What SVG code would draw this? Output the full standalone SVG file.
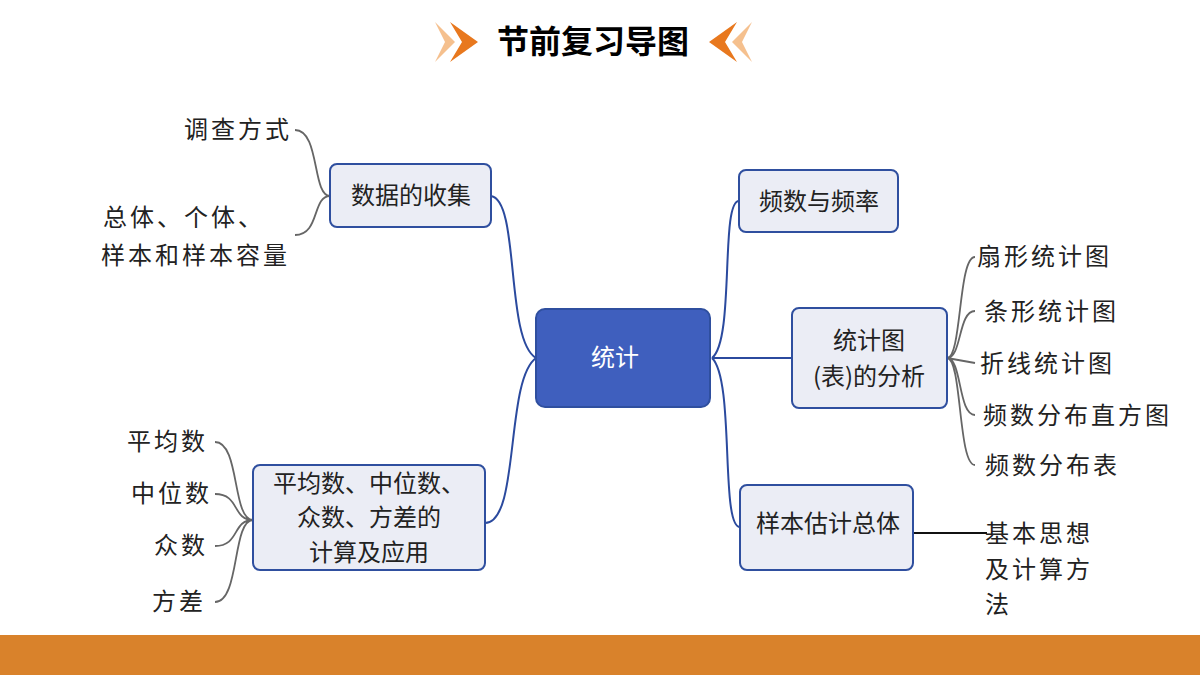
<svg xmlns="http://www.w3.org/2000/svg" width="1200" height="675" viewBox="0 0 1200 675">
<style>
text{font-family:"Noto Sans CJK SC","Noto Sans",sans-serif;font-size:24px;fill:#222;}
.t{text-anchor:middle;}
.n{fill:#EBEDF5;stroke:#2F4F9F;stroke-width:2;}
.c{fill:none;stroke:#2B4A9E;stroke-width:2;}
.g{fill:none;stroke:#666;stroke-width:1.8;}
</style>
<rect width="1200" height="675" fill="#fff"/>
<g id="title">
<polygon points="435,22 455,42 435,62 445,42" fill="#F5C08E"/>
<polygon points="450,22 478,42 450,62 462,42" fill="#E8781E"/>
<text x="593" y="53" class="t" style="font-size:32px;font-weight:bold;fill:#000">节前复习导图</text>
<polygon points="752,22 732,42 752,62 742,42" fill="#F5C08E"/>
<polygon points="737,22 709,42 737,62 725,42" fill="#E8781E"/>
</g>
<rect x="0" y="635" width="1200" height="40" fill="#D9822B"/>
<g id="connectors">
<path class="c" d="M536,358 C505,340 520,200 491,196"/>
<path class="c" d="M536,358 C505,380 520,523 485,523"/>
<path class="c" d="M712,358 C735,340 720,201 739,201"/>
<path class="c" d="M712,358 L792,358"/>
<path class="c" d="M712,358 C735,380 720,527 740,527"/>
<path class="g" d="M330,196 C312,196 320,130 295,130 M330,196 C312,196 320,235 295,235"/>
<path class="g" d="M253,520 C232,520 240,442 215,442 M253,520 C232,520 240,494 215,494 M253,520 C232,520 240,546 215,546 M253,520 C232,520 240,602 215,602"/>
<path class="g" d="M947,358 C962,358 958,257 975,257 M947,358 C962,358 958,311 975,311 M947,358 L975,363 M947,358 C962,358 958,415 975,415 M947,358 C962,358 958,465 975,465"/>
<path d="M913,533 L987,533" stroke="#111" stroke-width="1.8"/>
</g>
<g id="center"><rect x="536" y="309" width="174" height="98" rx="9" fill="#3F5FBE" stroke="#2F4F9F" stroke-width="2"/><text x="615" y="366" class="t" style="fill:#fff">统计</text></g>
<g id="n1"><rect class="n" x="330" y="164" width="161" height="63" rx="7"/><text x="411" y="204" class="t">数据的收集</text></g>
<g id="n2"><rect class="n" x="253" y="465" width="232" height="105" rx="7"/><text x="369" y="492" class="t">平均数、中位数、</text><text x="369" y="526" class="t">众数、方差的</text><text x="369" y="561" class="t">计算及应用</text></g>
<g id="n3"><rect class="n" x="739" y="170" width="159" height="62" rx="7"/><text x="819" y="210" class="t">频数与频率</text></g>
<g id="n4"><rect class="n" x="792" y="308" width="155" height="100" rx="7"/><text x="869" y="349" class="t">统计图</text><text x="869" y="385" class="t">(表)的分析</text></g>
<g id="n5"><rect class="n" x="740" y="485" width="173" height="85" rx="7"/><text x="828" y="532" class="t">样本估计总体</text></g>
<g id="leaves">
<text x="292" y="138" text-anchor="end" letter-spacing="3">调查方式</text>
<text x="265" y="226" text-anchor="end" letter-spacing="3">总体、个体、</text>
<text x="290" y="264" text-anchor="end" letter-spacing="3">样本和样本容量</text>
<text x="208" y="450" text-anchor="end" letter-spacing="3">平均数</text>
<text x="212" y="502" text-anchor="end" letter-spacing="3">中位数</text>
<text x="208" y="554" text-anchor="end" letter-spacing="3">众数</text>
<text x="206" y="610" text-anchor="end" letter-spacing="3">方差</text>
<text x="977" y="265" letter-spacing="3">扇形统计图</text>
<text x="984" y="320" letter-spacing="3">条形统计图</text>
<text x="980" y="372" letter-spacing="3">折线统计图</text>
<text x="983" y="424" letter-spacing="3">频数分布直方图</text>
<text x="985" y="474" letter-spacing="3">频数分布表</text>
<text x="985" y="542" letter-spacing="3">基本思想</text>
<text x="985" y="578" letter-spacing="3">及计算方</text>
<text x="985" y="613" letter-spacing="3">法</text>
</g>
</svg>
